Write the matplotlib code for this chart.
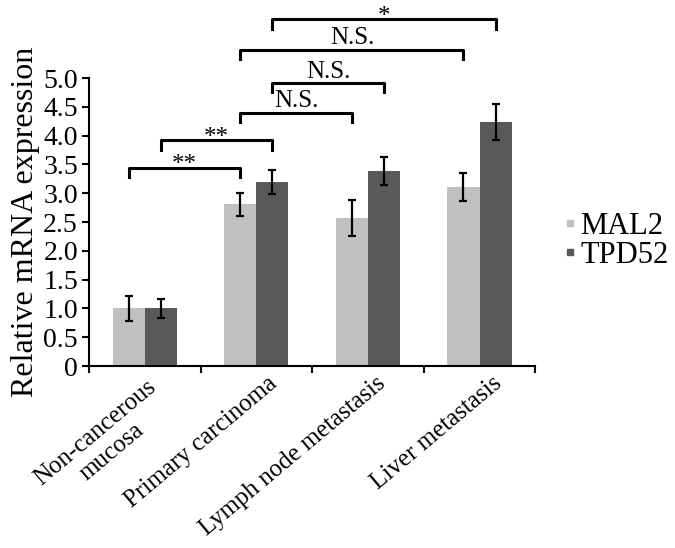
import numpy as np
import matplotlib
matplotlib.use("Agg")
import matplotlib.pyplot as plt
from matplotlib.lines import Line2D

plt.rcParams['font.family'] = ['Liberation Serif', 'DejaVu Serif']

categories = ["Non-cancerous\nmucosa", "Primary carcinoma",
              "Lymph node metastasis", "Liver metastasis"]
series_names = ["MAL2", "TPD52"]
mal2 = [1.00, 2.81, 2.57, 3.11]
mal2_err = [0.21, 0.20, 0.31, 0.25]
tpd52 = [1.00, 3.19, 3.39, 4.24]
tpd52_err = [0.16, 0.21, 0.24, 0.31]
yticks = [0, 0.5, 1.0, 1.5, 2.0, 2.5, 3.0, 3.5, 4.0, 4.5, 5.0]
ytick_labels = ["0", "0.5", "1.0", "1.5", "2.0", "2.5", "3.0", "3.5", "4.0", "4.5", "5.0"]

# comparisons: (group a, group b, series index, label)
comparisons = [(0, 1, 0, "**"), (0, 1, 1, "**"), (1, 2, 0, "N.S."),
               (1, 2, 1, "N.S."), (1, 3, 0, "N.S."), (1, 3, 1, "*")]
bracket_levels = [3.44, 3.92, 4.39, 4.91, 5.49, 6.02]

colors = ["#c0c0c0", "#595959"]
w = 0.287
x = np.arange(len(categories))

fig = plt.figure(figsize=(6.75, 5.48), dpi=100)
ax = fig.add_axes([0.132, 0.332, 0.661, 0.5255])

ax.bar(x - w / 2, mal2, w, color=colors[0], label=series_names[0])
ax.bar(x + w / 2, tpd52, w, color=colors[1], label=series_names[1])
ax.errorbar(x - w / 2, mal2, yerr=mal2_err, fmt='none', ecolor='black',
            elinewidth=1.6, capsize=3, capthick=1.6)
ax.errorbar(x + w / 2, tpd52, yerr=tpd52_err, fmt='none', ecolor='black',
            elinewidth=1.6, capsize=3, capthick=1.6)

ax.set_xlim(-0.5, len(categories) - 0.5)
ax.set_ylim(0, 5.0)
ax.set_yticks(yticks)
ax.set_yticklabels(ytick_labels, fontsize=20)
ax.set_xticks(np.arange(len(categories) + 1) - 0.5)
ax.set_xticklabels([])
ax.tick_params(axis='y', direction='out', length=5, width=1.5, pad=3)
ax.tick_params(axis='x', direction='out', length=5, width=1.5)
for s in ['top', 'right']:
    ax.spines[s].set_visible(False)
ax.spines['left'].set_linewidth(1.5)
ax.spines['bottom'].set_linewidth(1.5)

ax.set_ylabel("Relative mRNA expression", fontsize=23, labelpad=2)

# rotated category labels (anchored at end of the last baseline)
label_dx = [0.24, 0.19, 0.17, 0.21]
label_y = [-0.68, -0.33, -0.33, -0.33]
for i, cat in enumerate(categories):
    ax.text(x[i] + label_dx[i], label_y[i], cat, rotation=40, ha='right',
            va='baseline', rotation_mode='anchor', fontsize=18,
            multialignment='center', clip_on=False)

# significance brackets
drop = 0.16
for (a, b, s, lab), lvl in zip(comparisons, bracket_levels):
    off = -w / 2 if s == 0 else w / 2
    xa, xb = x[a] + off, x[b] + off
    ax.add_line(Line2D([xa, xa, xb, xb], [lvl - drop, lvl, lvl, lvl - drop],
                       color='black', lw=2.2, clip_on=False))
    dy = -0.06 if '*' in lab else 0.1
    ax.text((xa + xb) / 2, lvl + dy, lab, ha='center', va='baseline',
            fontsize=18, clip_on=False)

handles = [Line2D([], [], marker='s', ls='none', markersize=5,
                  color=c) for c in colors]
fig.legend(handles, series_names, loc='center left', bbox_to_anchor=(0.833, 0.561),
           frameon=False, fontsize=22, handletextpad=0.1, handlelength=0.5,
           labelspacing=0.0, borderpad=0, borderaxespad=0)

fig.savefig("out.png", dpi=100)
